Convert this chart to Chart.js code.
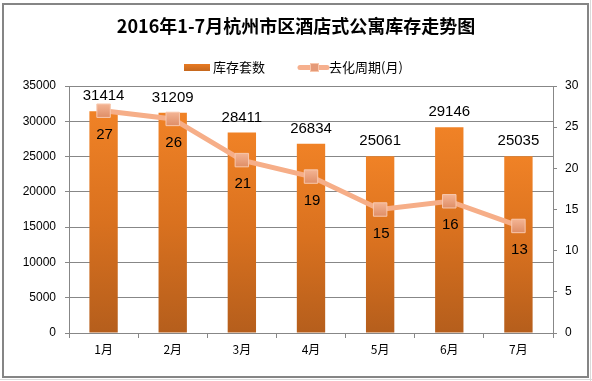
<!DOCTYPE html>
<html>
<head>
<meta charset="utf-8">
<script src="https://cdn.jsdelivr.net/npm/chart.js@4/dist/chart.umd.min.js"></script>
<style>
html,body{margin:0;padding:0;background:#fff;}
#wrap{position:relative;width:592px;height:381px;}
canvas{display:block;}
</style>
</head>
<body>
<div id="wrap"><canvas id="c" width="592" height="381"></canvas></div>
<script>
const titleText = '2016年1-7月杭州市区酒店式公寓库存走势图';
const categories = ['1月','2月','3月','4月','5月','6月','7月'];
const inventory = [31414, 31209, 28411, 26834, 25061, 29146, 25035];
const cycleMonths = [27, 26, 21, 19, 15, 16, 13];
const barLabel = '库存套数';
const lineLabel = '去化周期(月)';

const FONT = '"Liberation Sans", "Noto Sans CJK SC", sans-serif';
const CJK = '"Noto Sans CJK SC", "Liberation Sans", sans-serif';
const GRID = '#878787';

function barGradient(ctx){
  const chart = ctx.chart;
  const area = chart.chartArea;
  if (!area) return '#E87A22';
  const y = chart.scales.y;
  const v = ctx.raw;
  const top = y.getPixelForValue(v);
  const bot = y.getPixelForValue(0);
  const g = chart.ctx.createLinearGradient(0, top, 0, bot);
  g.addColorStop(0, '#F08226');
  g.addColorStop(0.5, '#D9711F');
  g.addColorStop(1, '#B55E1C');
  return g;
}

const decor = {
  id: 'decor',
  beforeDraw(chart){
    const c = chart.ctx;
    c.save();
    c.fillStyle = '#fff';
    c.fillRect(0,0,chart.width,chart.height);
    c.strokeStyle = '#dadada';
    c.lineWidth = 1;
    c.beginPath();
    c.moveTo(590.5,0); c.lineTo(590.5,381);
    c.moveTo(0,379.5); c.lineTo(592,379.5);
    c.stroke();
    c.restore();
  },
  afterDraw(chart){
    const c = chart.ctx;
    c.save();
    c.strokeStyle = '#858585';
    c.lineWidth = 2;
    c.strokeRect(3,4,585,373);
    c.fillStyle = '#000';
    c.font = 'bold 18px ' + CJK;
    c.textAlign = 'center';
    c.textBaseline = 'middle';
    c.fillText(titleText, 296, 26);
    const lg = c.createLinearGradient(0,64,0,72);
    lg.addColorStop(0,'#E87A22'); lg.addColorStop(1,'#C0651D');
    c.fillStyle = lg;
    c.fillRect(184,64,26,7);
    c.font = '13px ' + CJK;
    c.textAlign = 'left';
    c.fillStyle = '#000';
    c.fillText(barLabel, 213, 67);
    c.strokeStyle = '#F6B08E';
    c.lineWidth = 5;
    c.lineCap = 'round';
    c.beginPath(); c.moveTo(300,67.5); c.lineTo(327,67.5); c.stroke();
    c.fillStyle = '#E59A78';
    c.fillRect(310,63,9,9);
    c.strokeStyle = '#F8C7AC';
    c.lineWidth = 1;
    c.strokeRect(310.5,63.5,8,8);
    c.fillStyle = '#000';
    c.fillText(lineLabel, 329, 67);
    c.font = '15px ' + FONT;
    c.textAlign = 'center';
    c.textBaseline = 'middle';
    const lm = chart.getDatasetMeta(0);
    const bm = chart.getDatasetMeta(1);
    bm.data.forEach((el,i)=>{
      c.fillText(String(inventory[i]), el.x, el.y - 15);
    });
    lm.data.forEach((el,i)=>{
      c.fillText(String(cycleMonths[i]), el.x + 1, el.y + 24);
    });
    c.restore();
  }
};

function markerFill(ctx){
  const chart = ctx.chart;
  const el = ctx.element;
  if (!el || el.y === undefined || isNaN(el.y)) return '#E89C78';
  const g = chart.ctx.createLinearGradient(0, el.y-7, 0, el.y+7);
  g.addColorStop(0, '#F4B595');
  g.addColorStop(1, '#DE8D66');
  return g;
}

new Chart(document.getElementById('c'), {
  data: {
    labels: categories,
    datasets: [
      {
        type: 'line',
        label: lineLabel,
        data: cycleMonths,
        yAxisID: 'y1',
        borderColor: '#F6AE88',
        borderWidth: 5,
        pointStyle: 'rect',
        pointRadius: 9.5,
        pointHoverRadius: 9.5,
        pointBackgroundColor: markerFill,
        pointBorderColor: '#F8C8AE',
        pointBorderWidth: 1,
        tension: 0,
        order: 0
      },
      {
        type: 'bar',
        label: barLabel,
        data: inventory,
        yAxisID: 'y',
        backgroundColor: barGradient,
        borderWidth: 0,
        barPercentage: 0.41,
        categoryPercentage: 1.0,
        order: 1
      }
    ]
  },
  options: {
    responsive: false,
    animation: false,
    devicePixelRatio: 1,
    layout: { padding: { top: 86, left: 6, right: 6, bottom: 6 } },
    plugins: {
      legend: { display: false },
      title: { display: false },
      tooltip: { enabled: false }
    },
    scales: {
      x: {
        offset: true,
        grid: { offset: true, drawOnChartArea: false, color: GRID, tickLength: 5 },
        border: { color: GRID, width: 1 },
        ticks: { color: '#000', font: { family: CJK, size: 12 }, padding: 4 },
        afterFit(s){ s.height = 381 - 6 - 333; }
      },
      y: {
        position: 'left',
        min: 0, max: 35000,
        ticks: { stepSize: 5000, color: '#000', font: { family: FONT, size: 12 }, padding: 9,
                 callback: v => String(v) },
        grid: { color: GRID, tickLength: 4 },
        border: { color: GRID, width: 1 },
        afterFit(s){ s.width = 69 - 6; }
      },
      y1: {
        position: 'right',
        min: 0, max: 30,
        ticks: { stepSize: 5, color: '#000', font: { family: FONT, size: 12 }, padding: 8,
                 callback: v => String(v) },
        grid: { drawOnChartArea: false, color: GRID, tickLength: 4 },
        border: { color: GRID, width: 1 },
        afterFit(s){ s.width = 592 - 6 - 553; }
      }
    }
  },
  plugins: [decor]
});
</script>
</body>
</html>
